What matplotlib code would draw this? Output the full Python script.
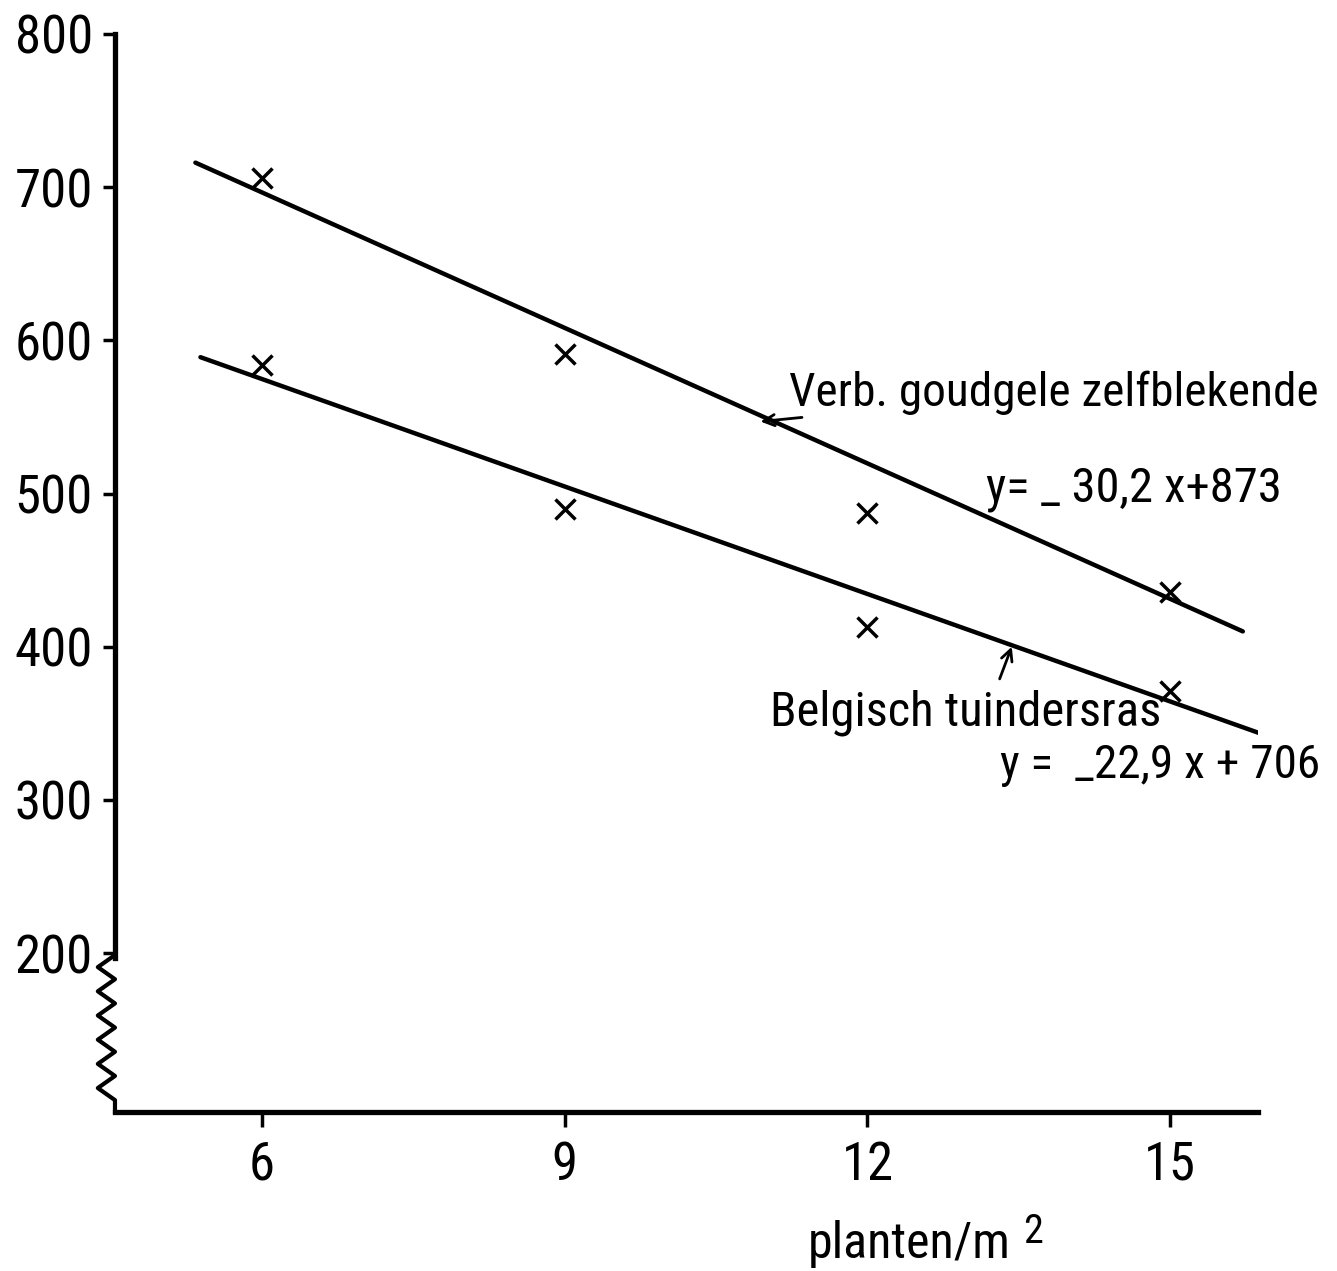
import matplotlib.pyplot as plt
from matplotlib import font_manager
import numpy as np

installed = {f.name for f in font_manager.fontManager.ttflist}
narrow = [n for n in ["Roboto Condensed", "Liberation Sans Narrow", "Roboto"] if n in installed]
plt.rcParams['font.family'] = narrow[:1] + ['DejaVu Sans']

# data
density = [6, 9, 12, 15]
verb_points = [706, 591, 487, 436]
belg_points = [584, 490, 413, 371]

# regression lines as drawn (ends)
verb_line_x = [5.34, 15.72]
verb_line_y = [716, 410]
belg_line_x = [5.39, 15.91]
belg_line_y = [589, 343]

yticks = [200, 300, 400, 500, 600, 700, 800]
xticks = [6, 9, 12, 15]


def _main():
    fig = plt.figure(figsize=(13.37, 12.71), dpi=100)
    ax = fig.add_axes([0.0860, 0.1251, 0.8549, 0.8482])

    ax.plot(verb_line_x, verb_line_y, color="black", lw=3.2, solid_capstyle="round")
    ax.plot(belg_line_x, belg_line_y, color="black", lw=3.2, solid_capstyle="round")
    ax.plot(density, verb_points, ls="none", marker="x", ms=15, mew=2.5, color="black")
    ax.plot(density, belg_points, ls="none", marker="x", ms=15, mew=2.5, color="black")

    ax.set_xlim(4.543, 15.87)
    ax.set_ylim(96.3, 800)
    ax.set_xticks(xticks)
    ax.set_yticks(yticks)
    ax.tick_params(axis="both", labelsize=38, width=2.5, color="black")
    ax.tick_params(axis="y", length=9, pad=7)
    ax.tick_params(axis="x", length=11, pad=9)

    for side in ["top", "right"]:
        ax.spines[side].set_visible(False)
    ax.spines["left"].set_linewidth(3.8)
    ax.spines["bottom"].set_linewidth(3.8)
    ax.spines["left"].set_bounds(197, 800)

    # zigzag axis break below 200
    zy = np.linspace(0.1456, 0.011, 13)
    zx = np.where(np.arange(13) % 2 == 0, 0.0, -0.015)
    zx = np.append(zx, 0.0)
    zy = np.append(zy, 0.0)
    ax.plot(zx, zy, transform=ax.transAxes, color="black", lw=3, clip_on=False)

    ax.annotate("Verb. goudgele zelfblekende", xy=(10.94, 547), xytext=(11.22, 566),
                fontsize=34, va="center", ha="left",
                arrowprops=dict(arrowstyle="->", color="black", lw=2,
                                shrinkA=0, shrinkB=0, mutation_scale=20))
    ax.text(13.17, 503, "y= _ 30,2 x+873", fontsize=35, va="center", ha="left")
    ax.text(11.03, 357, "Belgisch tuindersras", fontsize=35, va="center", ha="left")
    ax.annotate("", xy=(13.43, 400), xytext=(13.31, 379),
                arrowprops=dict(arrowstyle="->", color="black", lw=2,
                                shrinkA=0, shrinkB=0, mutation_scale=20))
    ax.text(13.31, 323, "y =  _22,9 x + 706", fontsize=34, va="center", ha="left")

    xl = fig.text(808 / 1337, 13 / 1271, "planten/m", fontsize=36, ha="left", va="baseline")
    ax.annotate("2", xy=(1, 0), xycoords=xl, xytext=(9, 18), textcoords="offset points",
                fontsize=29, ha="left", va="baseline")

    fig.savefig("out.png", dpi=100)


if __name__ == "__main__":
    _main()
